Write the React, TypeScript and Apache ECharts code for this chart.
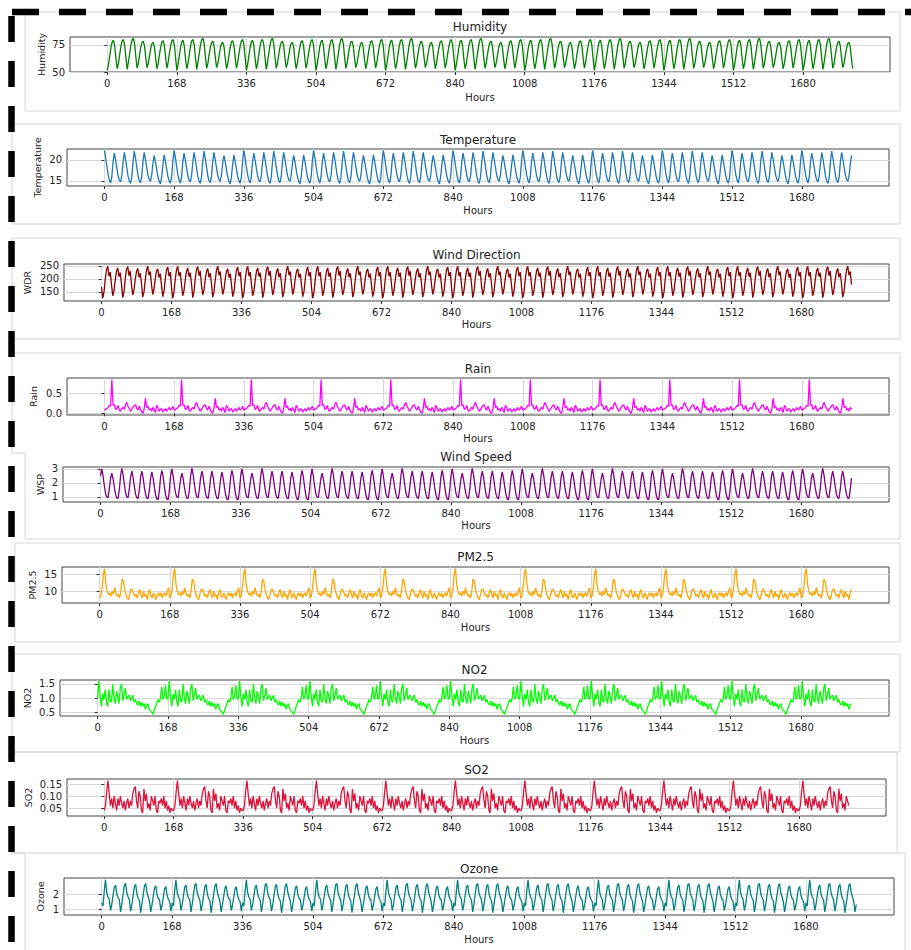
import React, { useEffect, useRef } from "react";
import * as echarts from "echarts";

// ---------- data ----------
const HOURS_END = 1800;
const STEP = 3; // hours between samples of the weekly profiles
const WEEK = 168;
const X_TICKS = [0, 168, 336, 504, 672, 840, 1008, 1176, 1344, 1512, 1680];

// Weekly profiles (one value every 3 h; the reference repeats week after week)
const humidityWeek = [
  51.5, 57, 65, 73, 78, 79.5, 74, 62,
  53, 58, 66, 74, 79, 80, 75, 63,
  52.5, 59, 67, 75, 80, 81, 76, 64,
  53.5, 58, 66, 73, 77.5, 78.5, 74, 63,
  54, 58, 65, 72, 76.5, 77.5, 73, 62,
  53, 58, 66, 73, 78, 79, 74, 63,
  53.5, 59, 67, 74, 79, 80, 75, 63,
];
const temperatureWeek = [
  22.3, 20.6, 18.5, 16.5, 15.2, 14.5, 16.0, 19.6,
  21.6, 20.0, 18.1, 16.3, 15.2, 14.8, 16.2, 19.4,
  21.8, 20.2, 18.2, 16.2, 15.0, 14.4, 15.9, 19.5,
  22.1, 20.4, 18.4, 16.4, 15.1, 14.6, 16.0, 19.6,
  21.8, 20.1, 18.2, 16.4, 15.3, 14.9, 16.3, 19.2,
  21.1, 19.6, 17.8, 16.0, 14.9, 14.3, 15.9, 18.9,
  21.2, 19.7, 17.9, 16.1, 15.0, 14.5, 15.9, 19.8,
];
const windDirWeek = [
  168, 126, 150, 198, 235, 248, 210, 226,
  178, 135, 155, 196, 230, 242, 208, 224,
  180, 128, 152, 200, 236, 247, 212, 230,
  176, 138, 158, 198, 228, 240, 206, 222,
  182, 130, 150, 196, 234, 249, 214, 228,
  178, 140, 160, 200, 230, 238, 205, 220,
  176, 132, 152, 198, 234, 245, 210, 226,
];
const rainWeek = [
  0.08, 0.1, 0.12, 0.15, 0.2, 0.18, 0.86, 0.2,
  0.22, 0.1, 0.12, 0.2, 0.08, 0.05, 0.12, 0.15,
  0.1, 0.22, 0.28, 0.18, 0.12, 0.05, 0.1, 0.15,
  0.2, 0.22, 0.12, 0.08, 0.18, 0.1, 0.03, 0.0,
  0.12, 0.38, 0.15, 0.18, 0.08, 0.12, 0.05, 0.15,
  0.1, 0.02, 0.2, 0.15, 0.05, 0.1, 0.12, 0.03,
  0.08, 0.12, 0.05, 0.1, 0.15, 0.08, 0.12, 0.18,
];
const windSpeedWeek = [
  2.5, 3.0, 2.5, 1.8, 1.25, 1.0, 0.95, 1.6,
  2.3, 2.7, 2.3, 1.7, 1.2, 0.92, 0.9, 1.5,
  2.5, 3.05, 2.6, 1.9, 1.3, 1.0, 0.95, 1.6,
  2.4, 2.85, 2.4, 1.75, 1.2, 0.95, 0.9, 1.5,
  2.4, 2.85, 2.4, 1.7, 1.2, 0.92, 0.88, 1.5,
  2.35, 2.8, 2.35, 1.7, 1.15, 0.85, 0.8, 1.45,
  2.45, 2.9, 2.45, 1.75, 1.15, 0.85, 0.8, 1.5,
];
const pm25Week = [
  8, 8.5, 11, 15, 16.6, 12, 10, 9,
  9.5, 8.5, 10, 9, 11, 9.5, 8.5, 9,
  8, 10, 13.5, 13, 10.5, 9, 8, 7.5,
  9, 10.5, 10.5, 9.5, 8.5, 9, 8, 9.5,
  10.5, 9, 8, 10, 8.5, 9, 7.5, 9.5,
  10.5, 8.5, 8, 9.5, 8.5, 7.5, 9, 9.5,
  8.5, 9.5, 8, 9, 9.5, 8.5, 10, 11,
];
const no2Week = [
  1.0, 1.6, 1.05, 0.7, 1.15, 0.95, 1.3, 0.85,
  0.7, 1.3, 0.9, 0.85, 1.5, 1.0, 0.8, 1.25,
  1.05, 0.8, 1.35, 1.5, 0.9, 1.1, 1.35, 0.95,
  1.05, 1.1, 0.9, 1.0, 1.1, 0.85, 0.95, 0.8,
  0.75, 0.9, 0.7, 0.85, 0.7, 0.8, 0.6, 0.75,
  0.8, 0.6, 0.55, 0.5, 0.42, 0.55, 0.7, 0.8,
  0.95, 0.85, 1.0, 1.4, 0.95, 1.05, 1.45, 0.95,
];
const so2Week = [
  0.04, 0.06, 0.12, 0.164, 0.11, 0.06, 0.09, 0.05,
  0.1, 0.07, 0.04, 0.09, 0.06, 0.1, 0.07, 0.05,
  0.08, 0.04, 0.07, 0.09, 0.05, 0.08, 0.06, 0.11,
  0.13, 0.14, 0.08, 0.05, 0.12, 0.1, 0.04, 0.03,
  0.13, 0.08, 0.11, 0.05, 0.07, 0.04, 0.1, 0.08,
  0.06, 0.1, 0.04, 0.03, 0.08, 0.07, 0.09, 0.06,
  0.1, 0.05, 0.08, 0.04, 0.06, 0.03, 0.05, 0.04,
];
const ozoneWeek = [
  1.4, 1.2, 2.2, 2.95, 2.1, 1.8, 1.65, 0.9,
  1.3, 1.9, 2.45, 2.6, 2.0, 1.75, 1.6, 0.8,
  1.35, 2.0, 2.6, 2.7, 2.05, 1.8, 1.6, 0.85,
  1.3, 1.9, 2.5, 2.65, 2.0, 1.7, 1.55, 0.75,
  1.35, 1.95, 2.55, 2.7, 2.1, 1.8, 1.5, 0.8,
  1.3, 1.85, 2.4, 2.55, 1.95, 1.7, 1.6, 0.9,
  1.25, 1.8, 2.35, 2.5, 1.9, 1.65, 1.5, 0.85,
];

function tile(week: number[]): [number, number][] {
  const out: [number, number][] = [];
  for (let h = 0; h <= HOURS_END; h += STEP) {
    out.push([h, week[(h % WEEK) / STEP]]);
  }
  return out;
}

// ---------- layout / style ----------
const FONT = "DejaVu Sans";
const PANELS = [
  { title: "Humidity", yName: "Humidity", color: "#008000", week: humidityWeek, yMin: 50, yMax: 82.4, yTicks: [50, 75], dec: 0,
    g: { left: 70, top: 37, width: 820, height: 35 }, titleY: 27, hoursY: 97, yNameX: 41 },
  { title: "Temperature", yName: "Temperature", color: "#1f77b4", week: temperatureWeek, yMin: 13.8, yMax: 22.6, yTicks: [15, 20], dec: 0,
    g: { left: 67, top: 149, width: 822, height: 37 }, titleY: 140, hoursY: 210, yNameX: 37 },
  { title: "Wind Direction", yName: "WDR", color: "#8b0000", week: windDirWeek, yMin: 115, yMax: 257, yTicks: [150, 200, 250], dec: 0,
    g: { left: 64, top: 264, width: 825, height: 37 }, titleY: 255, hoursY: 324, yNameX: 27 },
  { title: "Rain", yName: "Rain", color: "#ff00ff", week: rainWeek, yMin: -0.043, yMax: 0.9, yTicks: [0, 0.5], dec: 1,
    g: { left: 67, top: 378, width: 822, height: 37 }, titleY: 369, hoursY: 438, yNameX: 33 },
  { title: "Wind Speed", yName: "WSP", color: "#800080", week: windSpeedWeek, yMin: 0.64, yMax: 3.14, yTicks: [1, 2, 3], dec: 0,
    g: { left: 63, top: 467, width: 826, height: 35 }, titleY: 457, hoursY: 525, yNameX: 40 },
  { title: "PM2.5", yName: "PM2.5", color: "#ffa500", week: pm25Week, yMin: 6.5, yMax: 17.1, yTicks: [10, 15], dec: 0,
    g: { left: 62, top: 567, width: 827, height: 36 }, titleY: 557, hoursY: 627, yNameX: 32 },
  { title: "NO2", yName: "NO2", color: "#00ff00", week: no2Week, yMin: 0.36, yMax: 1.64, yTicks: [0.5, 1.0, 1.5], dec: 1,
    g: { left: 60, top: 680, width: 829, height: 36 }, titleY: 670, hoursY: 740, yNameX: 27 },
  { title: "SO2", yName: "SO2", color: "#dc143c", week: so2Week, yMin: 0.017, yMax: 0.171, yTicks: [0.05, 0.1, 0.15], dec: 2,
    g: { left: 67, top: 779, width: 819, height: 37 }, titleY: 770, hoursY: null, yNameX: 28 },
  { title: "Ozone", yName: "Ozone", color: "#008080", week: ozoneWeek, yMin: 0.6, yMax: 3.07, yTicks: [1, 2], dec: 0,
    g: { left: 64, top: 878, width: 830, height: 37 }, titleY: 869, hoursY: 939, yNameX: 40 },
];

const BORDER = "#d4d4d4";

function buildOption() {
  const graphics: any[] = [];
  // light panel frames
  const frames: number[][][] = [
    [[25, 12], [900, 12], [900, 111], [25, 111], [25, 12]],
    [[12, 124], [900, 124], [900, 224], [12, 224], [12, 124]],
    [[12, 238], [900, 238], [900, 339], [12, 339], [12, 238]],
    [[12, 353], [900, 353], [900, 539], [25, 539], [25, 453], [12, 453], [12, 353]],
    [[15, 543], [900, 543], [900, 642], [15, 642], [15, 543]],
    [[12, 654], [900, 654], [900, 752], [12, 752], [12, 654]],
    [[12, 752], [897, 752], [897, 853], [12, 853]],
    [[12, 853], [25, 853], [25, 950]],
    [[897, 853], [905, 853], [905, 950]],
  ];
  frames.forEach((pts) =>
    graphics.push({ type: "polyline", silent: true, shape: { points: pts }, style: { stroke: BORDER, fill: null, lineWidth: 1 } })
  );
  // thick dashed lines (top and left)
  graphics.push({ type: "line", silent: true, z: 100, shape: { x1: 12, y1: 12, x2: 911, y2: 12 }, style: { stroke: "#000", lineWidth: 6.5, lineDash: [27, 20] } });
  graphics.push({ type: "line", silent: true, z: 100, shape: { x1: 11.5, y1: 16, x2: 11.5, y2: 950 }, style: { stroke: "#000", lineWidth: 6.5, lineDash: [26, 19] } });

  PANELS.forEach((p) => {
    const cx = p.g.left + p.g.width / 2;
    const cy = p.g.top + p.g.height / 2;
    graphics.push({ type: "text", silent: true, x: cx, y: p.titleY,
      style: { text: p.title, fontSize: 12, fontFamily: FONT, fill: "#222", textAlign: "center", textVerticalAlign: "middle" } });
    if (p.hoursY != null) {
      graphics.push({ type: "text", silent: true, x: cx, y: p.hoursY,
        style: { text: "Hours", fontSize: 10, fontFamily: FONT, fill: "#222", textAlign: "center", textVerticalAlign: "middle" } });
    }
    graphics.push({ type: "text", silent: true, x: p.yNameX, y: cy, rotation: Math.PI / 2,
      style: { text: p.yName, fontSize: 9.5, fontFamily: FONT, fill: "#222", textAlign: "center", textVerticalAlign: "middle" } });
  });

  return {
    animation: false,
    backgroundColor: "#ffffff",
    grid: PANELS.map((p) => ({
      left: p.g.left, top: p.g.top, width: p.g.width, height: p.g.height,
      show: true, borderColor: "#444", borderWidth: 1, backgroundColor: "transparent",
    })),
    xAxis: PANELS.map((p, i) => ({
      type: "value", gridIndex: i, min: -90, max: 1890,
      axisLine: { show: false },
      axisTick: { show: true, length: 3, customValues: X_TICKS, lineStyle: { color: "#333", width: 1 } },
      axisLabel: { customValues: X_TICKS, fontSize: 10, color: "#222", margin: 6, fontFamily: FONT,
        formatter: (v: number) => String(v) },
      splitLine: { show: true, lineStyle: { color: "#d8d8d8", width: 1 } },
    })),
    yAxis: PANELS.map((p, i) => ({
      type: "value", gridIndex: i, min: p.yMin, max: p.yMax,
      axisLine: { show: false },
      axisTick: { show: true, length: 3, customValues: p.yTicks, lineStyle: { color: "#333", width: 1 } },
      axisLabel: { customValues: p.yTicks, fontSize: 10, color: "#222", margin: 5, fontFamily: FONT,
        formatter: (v: number) => v.toFixed(p.dec) },
      splitLine: { show: true, lineStyle: { color: "#d8d8d8", width: 1 } },
    })),
    series: PANELS.map((p, i) => ({
      type: "line", xAxisIndex: i, yAxisIndex: i, data: tile(p.week),
      showSymbol: false, symbol: "none", silent: true, clip: true,
      lineStyle: { color: p.color, width: 1.3 }, itemStyle: { color: p.color },
    })),
    graphic: graphics,
  };
}

export default function App() {
  const ref = useRef<HTMLDivElement>(null);
  useEffect(() => {
    document.body.style.margin = "0";
    const chart = echarts.init(ref.current!, undefined, { renderer: "svg" });
    chart.setOption(buildOption() as any);
    return () => chart.dispose();
  }, []);
  return <div ref={ref} style={{ width: 911, height: 950 }} />;
}
